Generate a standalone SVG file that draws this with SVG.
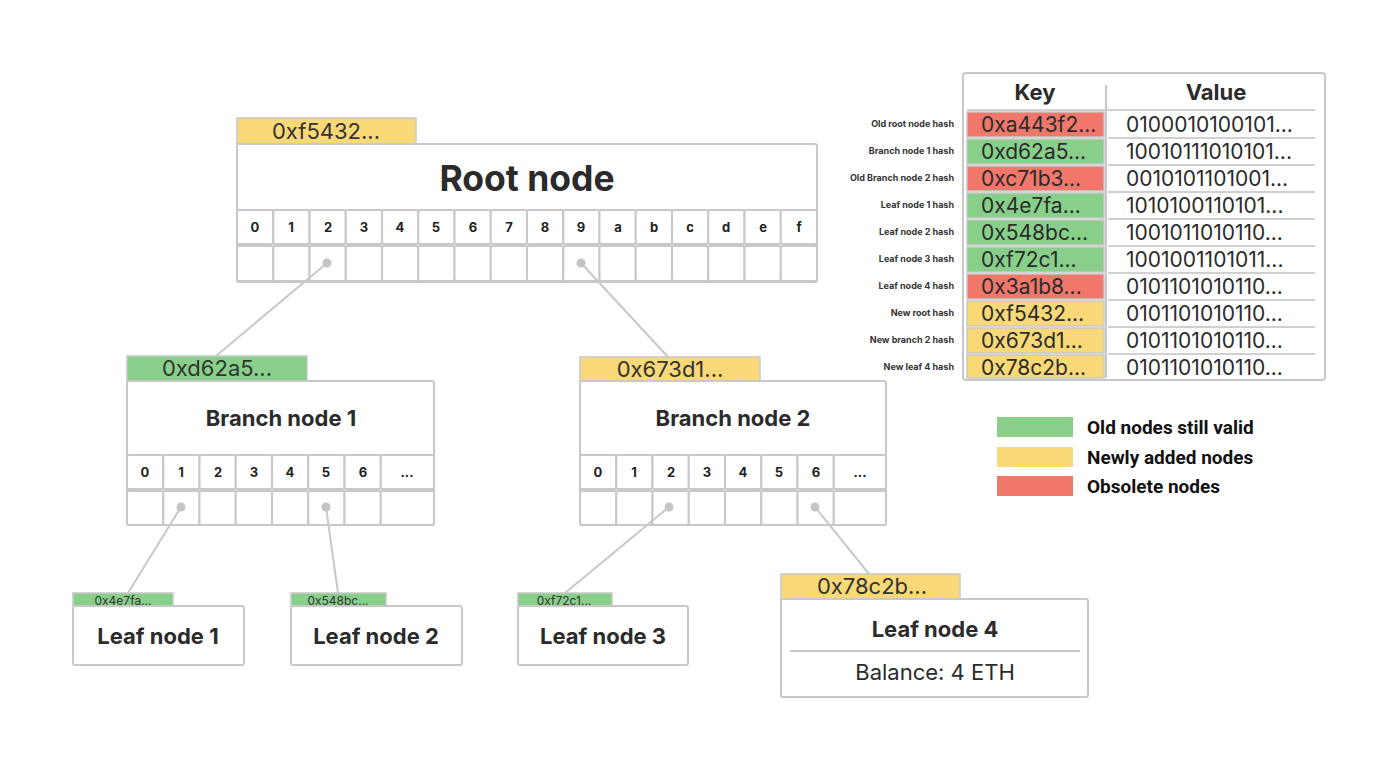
<svg xmlns="http://www.w3.org/2000/svg" width="1400" height="771" viewBox="0 0 1400 771">
<style>
.box{fill:#fff;stroke:#c8c8c8;stroke-width:2}
.cell{fill:#fff;stroke:#c8c8c8;stroke-width:2}
.g{fill:#88d08a;stroke:#c8c8c8;stroke-width:1.5}
.y{fill:#f9d877;stroke:#c8c8c8;stroke-width:1.5}
.r{fill:#f0776a;stroke:#c8c8c8;stroke-width:1.5}
.t{font-family:Inter,"Noto Sans",sans-serif;fill:#2b2b2b}
.b{font-weight:700}
.ct{font-family:Inter,"Noto Sans",sans-serif;font-weight:700;font-size:13px;fill:#222;text-anchor:middle}
.hx{font-family:Inter,"Noto Sans",sans-serif;fill:#333;text-anchor:middle}
.lk{font-family:Inter,"Noto Sans",sans-serif;font-weight:700;font-size:9px;fill:#333;text-anchor:end}
.kv{font-family:Inter,"Noto Sans",sans-serif;font-size:21px;fill:#2b2b2b}
.lg{font-family:Roboto,"Noto Sans",sans-serif;font-weight:700;font-size:19px;fill:#111}
.line{stroke:#c8c8c8;stroke-width:2;fill:none}
.dot{fill:#c4c4c4}
</style>

<g id="root-node">
<rect class="y" x="237" y="118" width="179" height="26"/>
<text class="hx" x="326" y="139" font-size="22">0xf5432...</text>
<rect class="box" x="237" y="144" width="580" height="138" rx="2"/>
<text class="t b" x="527" y="191" font-size="35.5" text-anchor="middle">Root node</text>
<g>
<rect class="cell" x="237" y="210" width="36.25" height="34" rx="2"/><rect class="cell" x="273.25" y="210" width="36.25" height="34" rx="2"/><rect class="cell" x="309.5" y="210" width="36.25" height="34" rx="2"/><rect class="cell" x="345.75" y="210" width="36.25" height="34" rx="2"/><rect class="cell" x="382" y="210" width="36.25" height="34" rx="2"/><rect class="cell" x="418.25" y="210" width="36.25" height="34" rx="2"/><rect class="cell" x="454.5" y="210" width="36.25" height="34" rx="2"/><rect class="cell" x="490.75" y="210" width="36.25" height="34" rx="2"/><rect class="cell" x="527" y="210" width="36.25" height="34" rx="2"/><rect class="cell" x="563.25" y="210" width="36.25" height="34" rx="2"/><rect class="cell" x="599.5" y="210" width="36.25" height="34" rx="2"/><rect class="cell" x="635.75" y="210" width="36.25" height="34" rx="2"/><rect class="cell" x="672" y="210" width="36.25" height="34" rx="2"/><rect class="cell" x="708.25" y="210" width="36.25" height="34" rx="2"/><rect class="cell" x="744.5" y="210" width="36.25" height="34" rx="2"/><rect class="cell" x="780.75" y="210" width="36.25" height="34" rx="2"/>
<rect class="cell" x="237" y="246" width="36.25" height="35" rx="2"/><rect class="cell" x="273.25" y="246" width="36.25" height="35" rx="2"/><rect class="cell" x="309.5" y="246" width="36.25" height="35" rx="2"/><rect class="cell" x="345.75" y="246" width="36.25" height="35" rx="2"/><rect class="cell" x="382" y="246" width="36.25" height="35" rx="2"/><rect class="cell" x="418.25" y="246" width="36.25" height="35" rx="2"/><rect class="cell" x="454.5" y="246" width="36.25" height="35" rx="2"/><rect class="cell" x="490.75" y="246" width="36.25" height="35" rx="2"/><rect class="cell" x="527" y="246" width="36.25" height="35" rx="2"/><rect class="cell" x="563.25" y="246" width="36.25" height="35" rx="2"/><rect class="cell" x="599.5" y="246" width="36.25" height="35" rx="2"/><rect class="cell" x="635.75" y="246" width="36.25" height="35" rx="2"/><rect class="cell" x="672" y="246" width="36.25" height="35" rx="2"/><rect class="cell" x="708.25" y="246" width="36.25" height="35" rx="2"/><rect class="cell" x="744.5" y="246" width="36.25" height="35" rx="2"/><rect class="cell" x="780.75" y="246" width="36.25" height="35" rx="2"/>
</g>
<g>
<text class="ct" x="255" y="232">0</text><text class="ct" x="291" y="232">1</text><text class="ct" x="328" y="232">2</text><text class="ct" x="364" y="232">3</text><text class="ct" x="400" y="232">4</text><text class="ct" x="436" y="232">5</text><text class="ct" x="473" y="232">6</text><text class="ct" x="509" y="232">7</text><text class="ct" x="545" y="232">8</text><text class="ct" x="581" y="232">9</text><text class="ct" x="618" y="232">a</text><text class="ct" x="654" y="232">b</text><text class="ct" x="690" y="232">c</text><text class="ct" x="726" y="232">d</text><text class="ct" x="763" y="232">e</text><text class="ct" x="799" y="232">f</text>
</g>
</g>

<g id="branch-node-1">
<rect class="g" x="127" y="356" width="180" height="25"/>
<text class="hx" x="217" y="376" font-size="22">0xd62a5...</text>
<rect class="box" x="127" y="381" width="307" height="144" rx="2"/>
<text class="t b" x="281" y="426" font-size="22" text-anchor="middle">Branch node 1</text>
<rect class="cell" x="127" y="455" width="36.25" height="34" rx="2"/><rect class="cell" x="163.25" y="455" width="36.25" height="34" rx="2"/><rect class="cell" x="199.5" y="455" width="36.25" height="34" rx="2"/><rect class="cell" x="235.75" y="455" width="36.25" height="34" rx="2"/><rect class="cell" x="272" y="455" width="36.25" height="34" rx="2"/><rect class="cell" x="308.25" y="455" width="36.25" height="34" rx="2"/><rect class="cell" x="344.5" y="455" width="36.25" height="34" rx="2"/><rect class="cell" x="380.75" y="455" width="53.25" height="34" rx="2"/>
<rect class="cell" x="127" y="491" width="36.25" height="34" rx="2"/><rect class="cell" x="163.25" y="491" width="36.25" height="34" rx="2"/><rect class="cell" x="199.5" y="491" width="36.25" height="34" rx="2"/><rect class="cell" x="235.75" y="491" width="36.25" height="34" rx="2"/><rect class="cell" x="272" y="491" width="36.25" height="34" rx="2"/><rect class="cell" x="308.25" y="491" width="36.25" height="34" rx="2"/><rect class="cell" x="344.5" y="491" width="36.25" height="34" rx="2"/><rect class="cell" x="380.75" y="491" width="53.25" height="34" rx="2"/>
<text class="ct" x="145" y="477">0</text><text class="ct" x="181" y="477">1</text><text class="ct" x="218" y="477">2</text><text class="ct" x="254" y="477">3</text><text class="ct" x="290" y="477">4</text><text class="ct" x="326" y="477">5</text><text class="ct" x="363" y="477">6</text><text class="ct" x="407" y="477">...</text>
</g>

<g id="branch-node-2">
<rect class="y" x="580" y="357" width="180" height="24"/>
<text class="hx" x="670" y="377" font-size="22">0x673d1...</text>
<rect class="box" x="580" y="381" width="306" height="144" rx="2"/>
<text class="t b" x="733" y="426" font-size="22" text-anchor="middle">Branch node 2</text>
<rect class="cell" x="580" y="455" width="36.25" height="34" rx="2"/><rect class="cell" x="616.25" y="455" width="36.25" height="34" rx="2"/><rect class="cell" x="652.5" y="455" width="36.25" height="34" rx="2"/><rect class="cell" x="688.75" y="455" width="36.25" height="34" rx="2"/><rect class="cell" x="725" y="455" width="36.25" height="34" rx="2"/><rect class="cell" x="761.25" y="455" width="36.25" height="34" rx="2"/><rect class="cell" x="797.5" y="455" width="36.25" height="34" rx="2"/><rect class="cell" x="833.75" y="455" width="52.25" height="34" rx="2"/>
<rect class="cell" x="580" y="491" width="36.25" height="34" rx="2"/><rect class="cell" x="616.25" y="491" width="36.25" height="34" rx="2"/><rect class="cell" x="652.5" y="491" width="36.25" height="34" rx="2"/><rect class="cell" x="688.75" y="491" width="36.25" height="34" rx="2"/><rect class="cell" x="725" y="491" width="36.25" height="34" rx="2"/><rect class="cell" x="761.25" y="491" width="36.25" height="34" rx="2"/><rect class="cell" x="797.5" y="491" width="36.25" height="34" rx="2"/><rect class="cell" x="833.75" y="491" width="52.25" height="34" rx="2"/>
<text class="ct" x="598" y="477">0</text><text class="ct" x="634" y="477">1</text><text class="ct" x="671" y="477">2</text><text class="ct" x="707" y="477">3</text><text class="ct" x="743" y="477">4</text><text class="ct" x="779" y="477">5</text><text class="ct" x="816" y="477">6</text><text class="ct" x="860" y="477">...</text>
</g>

<g id="leaf-node-1">
<rect class="g" x="73" y="593" width="100" height="13"/>
<text class="hx" x="123" y="605" font-size="12">0x4e7fa...</text>
<rect class="box" x="73" y="606" width="171" height="59" rx="2"/>
<text class="t b" x="158" y="644" font-size="22" text-anchor="middle">Leaf node 1</text>
</g>

<g id="leaf-node-2">
<rect class="g" x="291" y="593" width="95" height="13"/>
<text class="hx" x="338" y="605" font-size="12">0x548bc...</text>
<rect class="box" x="291" y="606" width="171" height="59" rx="2"/>
<text class="t b" x="376" y="644" font-size="22" text-anchor="middle">Leaf node 2</text>
</g>

<g id="leaf-node-3">
<rect class="g" x="518" y="593" width="94" height="13"/>
<text class="hx" x="564" y="605" font-size="12">0xf72c1...</text>
<rect class="box" x="518" y="606" width="170" height="59" rx="2"/>
<text class="t b" x="603" y="644" font-size="22" text-anchor="middle">Leaf node 3</text>
</g>

<g id="leaf-node-4">
<rect class="y" x="781" y="574" width="179" height="25"/>
<text class="hx" x="872" y="594" font-size="22">0x78c2b...</text>
<rect class="box" x="781" y="599" width="307" height="98" rx="2"/>
<text class="t b" x="935" y="637" font-size="22" text-anchor="middle">Leaf node 4</text>
<line class="line" x1="790" y1="651" x2="1080" y2="651"/>
<text class="t" x="935" y="680" font-size="22" text-anchor="middle">Balance: 4 ETH</text>
</g>

<g id="connectors">
<line class="line" x1="327" y1="263" x2="216" y2="356"/>
<line class="line" x1="581" y1="263" x2="668" y2="357"/>
<line class="line" x1="181" y1="507" x2="128" y2="593"/>
<line class="line" x1="326" y1="507" x2="338" y2="593"/>
<line class="line" x1="669" y1="507" x2="565" y2="593"/>
<line class="line" x1="815" y1="507" x2="869" y2="574"/>
<circle class="dot" cx="327" cy="263" r="4.5"/>
<circle class="dot" cx="581" cy="263" r="4.5"/>
<circle class="dot" cx="181" cy="507" r="4.5"/>
<circle class="dot" cx="326" cy="507" r="4.5"/>
<circle class="dot" cx="669" cy="507" r="4.5"/>
<circle class="dot" cx="815" cy="507" r="4.5"/>
</g>

<g id="hash-table">
<rect class="box" x="963" y="73" width="362" height="307" rx="3"/>
<text class="t b" x="1035" y="100" font-size="22" text-anchor="middle">Key</text>
<text class="t b" x="1216" y="100" font-size="22" text-anchor="middle">Value</text>
<line class="line" x1="1106" y1="85" x2="1106" y2="378"/>
<g stroke="#d0d0d0" stroke-width="2">
<line x1="967" y1="110" x2="1315" y2="110"/>
<line x1="1108" y1="138" x2="1315" y2="138"/>
<line x1="1108" y1="165" x2="1315" y2="165"/>
<line x1="1108" y1="192" x2="1315" y2="192"/>
<line x1="1108" y1="219" x2="1315" y2="219"/>
<line x1="1108" y1="246" x2="1315" y2="246"/>
<line x1="1108" y1="273" x2="1315" y2="273"/>
<line x1="1108" y1="300" x2="1315" y2="300"/>
<line x1="1108" y1="327" x2="1315" y2="327"/>
<line x1="1108" y1="354" x2="1315" y2="354"/>
</g>
<rect class="r" x="967" y="112" width="137" height="25"/>
<rect class="g" x="967" y="139" width="137" height="25"/>
<rect class="r" x="967" y="166" width="137" height="25"/>
<rect class="g" x="967" y="193" width="137" height="25"/>
<rect class="g" x="967" y="220" width="137" height="25"/>
<rect class="g" x="967" y="247" width="137" height="25"/>
<rect class="r" x="967" y="274" width="137" height="25"/>
<rect class="y" x="967" y="301" width="137" height="25"/>
<rect class="y" x="967" y="328" width="137" height="25"/>
<rect class="y" x="967" y="355" width="137" height="23"/>
<g class="kv">
<text x="981" y="132">0xa443f2...</text>
<text x="981" y="159">0xd62a5...</text>
<text x="981" y="186">0xc71b3...</text>
<text x="981" y="213">0x4e7fa...</text>
<text x="981" y="240">0x548bc...</text>
<text x="981" y="267">0xf72c1...</text>
<text x="981" y="294">0x3a1b8...</text>
<text x="981" y="321">0xf5432...</text>
<text x="981" y="348">0x673d1...</text>
<text x="981" y="375">0x78c2b...</text>
<text x="1126" y="132">0100010100101...</text>
<text x="1126" y="159">10010111010101...</text>
<text x="1126" y="186">0010101101001...</text>
<text x="1126" y="213">1010100110101...</text>
<text x="1126" y="240">1001011010110...</text>
<text x="1126" y="267">1001001101011...</text>
<text x="1126" y="294">0101101010110...</text>
<text x="1126" y="321">0101101010110...</text>
<text x="1126" y="348">0101101010110...</text>
<text x="1126" y="375">0101101010110...</text>
</g>
<g class="lk">
<text x="954" y="127">Old root node hash</text>
<text x="954" y="154">Branch node 1 hash</text>
<text x="954" y="181">Old Branch node 2 hash</text>
<text x="954" y="208">Leaf node 1 hash</text>
<text x="954" y="235">Leaf node 2 hash</text>
<text x="954" y="262">Leaf node 3 hash</text>
<text x="954" y="289">Leaf node 4 hash</text>
<text x="954" y="316">New root hash</text>
<text x="954" y="343">New branch 2 hash</text>
<text x="954" y="370">New leaf 4 hash</text>
</g>
</g>

<g id="legend">
<rect x="997" y="417" width="76" height="20" fill="#88d08a"/>
<rect x="997" y="447" width="76" height="20" fill="#f9d877"/>
<rect x="997" y="476" width="76" height="20" fill="#f0776a"/>
<text class="lg" x="1087" y="434">Old nodes still valid</text>
<text class="lg" x="1087" y="464">Newly added nodes</text>
<text class="lg" x="1087" y="493">Obsolete nodes</text>
</g>
</svg>
